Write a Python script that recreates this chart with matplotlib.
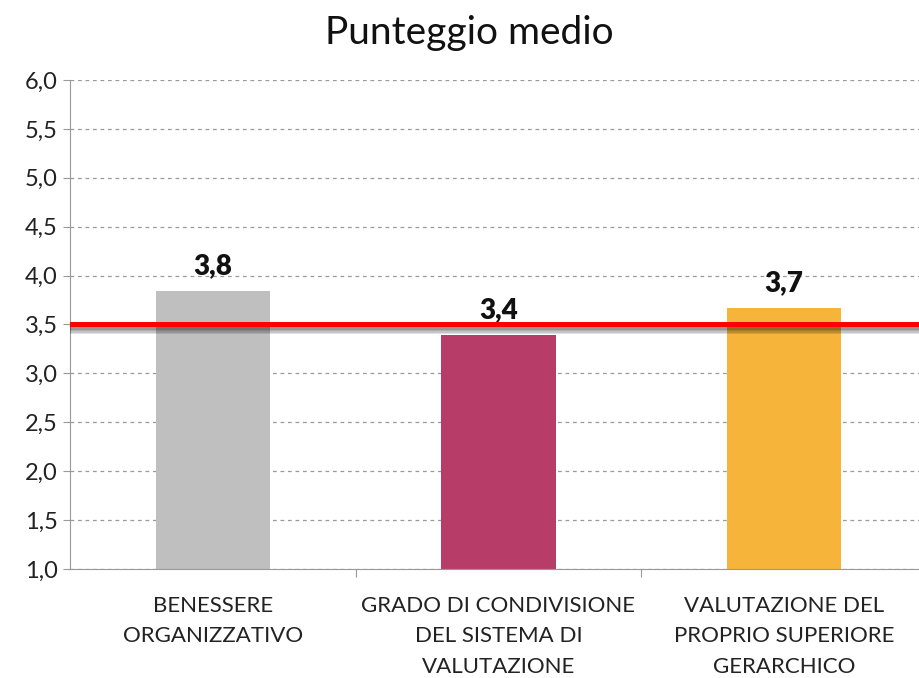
import numpy as np
import matplotlib.pyplot as plt
import matplotlib.patheffects as pe

categories = ["BENESSERE\nORGANIZZATIVO",
              "GRADO DI CONDIVISIONE\nDEL SISTEMA DI\nVALUTAZIONE",
              "VALUTAZIONE DEL\nPROPRIO SUPERIORE\nGERARCHICO"]
scores = [3.84, 3.39, 3.67]
bar_colors = ["#bfbfbf", "#b83c68", "#f7b43a"]
threshold = 3.5
yticks = np.arange(1.0, 6.01, 0.5)

plt.rcParams["font.family"] = ["Lato", "DejaVu Sans"]

fig = plt.figure(figsize=(9.2, 6.78), dpi=100)
ax = fig.add_axes([70 / 920, 109 / 678, 857 / 920, 489 / 678])

x = np.arange(len(categories))
ax.bar(x, scores, width=0.4, color=bar_colors, zorder=2)

for xi, v in zip(x, scores):
    ax.text(xi, v + 0.12, f"{v:.1f}".replace(".", ","), ha="center", va="bottom",
            fontsize=20, fontweight="heavy", color="#111111")

# soft shadow under the threshold line
shadow = [pe.SimpleLineShadow(offset=(0, -k), shadow_color="black", alpha=0.12, linewidth=5)
          for k in (1, 2, 3, 4)]
ax.axhline(threshold, color="#ff0000", linewidth=3.6, zorder=3,
           path_effects=shadow + [pe.Normal()])

ax.set_xlim(-0.5, 2.5)
ax.set_ylim(1.0, 6.0)
ax.set_yticks(yticks)
ax.set_yticklabels([f"{t:.1f}".replace(".", ",") for t in yticks], fontsize=17, color="#222222")
ax.yaxis.grid(True, linestyle=(0, (3, 3)), color="#9a9a9a", linewidth=0.9)
ax.set_axisbelow(True)

ax.set_xticks([0.5, 1.5])
ax.set_xticklabels([])
ax.tick_params(axis="x", length=6, color="#999999")
ax.tick_params(axis="y", length=5, color="#999999", pad=4)
for i, lab in enumerate(categories):
    ax.text(i, -0.055, lab, transform=ax.get_xaxis_transform(), ha="center", va="top",
            fontsize=16, linespacing=1.65, color="#222222")

for s in ["top", "right"]:
    ax.spines[s].set_visible(False)
for s in ["left", "bottom"]:
    ax.spines[s].set_color("#999999")

fig.text(0.51, 0.952, "Punteggio medio", ha="center", va="center", fontsize=28, color="#111111")

fig.savefig("out.png", dpi=100)
